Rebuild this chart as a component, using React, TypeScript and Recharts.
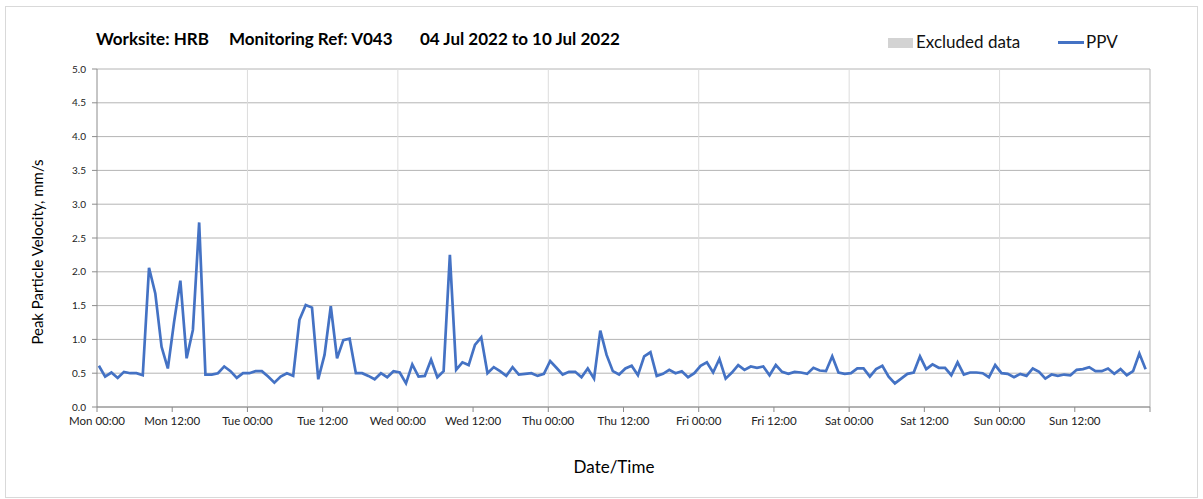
import { LineChart, Line, XAxis, YAxis, CartesianGrid, ReferenceLine } from "recharts";

// hourly PPV readings (mm/s), one array per day
const mon = [0.61, 0.45, 0.51, 0.43, 0.52, 0.5, 0.5, 0.47, 2.06, 1.68, 0.89, 0.57, 1.26, 1.87, 0.72, 1.14, 2.73, 0.48, 0.48, 0.5, 0.6, 0.53, 0.43, 0.5];
const tue = [0.5, 0.53, 0.53, 0.45, 0.36, 0.45, 0.5, 0.46, 1.29, 1.51, 1.47, 0.41, 0.77, 1.49, 0.72, 0.99, 1.01, 0.5, 0.5, 0.46, 0.41, 0.5, 0.44, 0.53];
const wed = [0.51, 0.35, 0.63, 0.45, 0.46, 0.7, 0.44, 0.53, 2.25, 0.55, 0.66, 0.62, 0.92, 1.03, 0.5, 0.59, 0.53, 0.46, 0.59, 0.48, 0.49, 0.5, 0.46, 0.49];
const thu = [0.68, 0.58, 0.48, 0.52, 0.52, 0.44, 0.57, 0.42, 1.13, 0.77, 0.53, 0.48, 0.57, 0.61, 0.47, 0.75, 0.81, 0.46, 0.49, 0.55, 0.5, 0.53, 0.44, 0.5];
const fri = [0.61, 0.66, 0.51, 0.71, 0.42, 0.51, 0.62, 0.55, 0.6, 0.58, 0.6, 0.47, 0.62, 0.52, 0.49, 0.52, 0.51, 0.49, 0.58, 0.54, 0.53, 0.75, 0.51, 0.49];
const sat = [0.5, 0.57, 0.57, 0.45, 0.56, 0.61, 0.45, 0.35, 0.42, 0.49, 0.51, 0.75, 0.56, 0.63, 0.58, 0.58, 0.47, 0.66, 0.48, 0.51, 0.51, 0.5, 0.44, 0.62];
const sun = [0.5, 0.49, 0.44, 0.49, 0.46, 0.57, 0.52, 0.42, 0.48, 0.46, 0.48, 0.47, 0.55, 0.56, 0.59, 0.53, 0.53, 0.57, 0.49, 0.56, 0.47, 0.53, 0.79, 0.56];

const dayNames = ["Mon", "Tue", "Wed", "Thu", "Fri", "Sat", "Sun", "Mon"];
const xTicks = [0, 12, 24, 36, 48, 60, 72, 84, 96, 108, 120, 132, 144, 156, 168];
const yTicks = [0, 0.5, 1, 1.5, 2, 2.5, 3, 3.5, 4, 4.5, 5];
const dayLines = [24, 48, 72, 96, 120, 144];

// readings were logged a little after each hour
const data = [...mon, ...tue, ...wed, ...thu, ...fri, ...sat, ...sun].map((v, i) => ({ hour: i + 0.3, ppv: v }));

const FONT = "Lato, 'Open Sans', sans-serif";

function fmtTick(h: number) {
  if (h >= 168) return "";
  const d = dayNames[Math.floor(h / 24)];
  return `${d} ${h % 24 === 0 ? "00:00" : "12:00"}`;
}

export default function App() {
  return (
    <div style={{ position: "absolute", left: 0, top: 0, width: 1203, height: 499, fontFamily: FONT, color: "#000" }}>
      <div style={{ position: "absolute", left: 5, top: 6, width: 1191, height: 490, border: "1px solid #d9d9d9" }} />

      <div style={{ position: "absolute", top: 29, left: 0, fontSize: 17, fontWeight: 700, lineHeight: "20px", whiteSpace: "nowrap" }}>
        <span style={{ position: "absolute", left: 96 }}>Worksite: HRB</span>
        <span style={{ position: "absolute", left: 229 }}>Monitoring Ref: V043</span>
        <span style={{ position: "absolute", left: 420 }}>04 Jul 2022 to 10 Jul 2022</span>
      </div>

      <div style={{ position: "absolute", top: 32, left: 0, fontSize: 17, lineHeight: "20px", whiteSpace: "nowrap", color: "#111" }}>
        <span style={{ position: "absolute", left: 888, top: 6, width: 25, height: 10, background: "#d3d3d3" }} />
        <span style={{ position: "absolute", left: 916 }}>Excluded data</span>
        <span style={{ position: "absolute", left: 1058, top: 9, width: 26, height: 3, background: "#4472c4" }} />
        <span style={{ position: "absolute", left: 1086 }}>PPV</span>
      </div>

      <div
        style={{
          position: "absolute",
          left: 37,
          top: 252,
          fontSize: 15,
          whiteSpace: "nowrap",
          transform: "translate(-50%, -50%) rotate(-90deg)",
        }}
      >
        Peak Particle Velocity, mm/s
      </div>

      <div style={{ position: "absolute", left: 614, top: 466, fontSize: 17, whiteSpace: "nowrap", transform: "translate(-50%, -50%)" }}>
        Date/Time
      </div>

      <div style={{ position: "absolute", left: 0, top: 0 }}>
        <LineChart width={1203} height={499} data={data} margin={{ top: 69, right: 53, left: 37, bottom: 62 }}>
          <CartesianGrid vertical={false} stroke="#b4b4b4" />
          {dayLines.map((d) => (
            <ReferenceLine key={d} x={d} stroke="#dcdcdc" strokeWidth={1} />
          ))}
          <ReferenceLine x={168} stroke="#b4b4b4" strokeWidth={1} />
          <XAxis
            dataKey="hour"
            type="number"
            domain={[0, 168]}
            ticks={xTicks}
            interval={0}
            tickFormatter={fmtTick}
            height={30}
            stroke="#8c8c8c"
            tickSize={5}
            tickMargin={5}
            tick={{ fontSize: 11.5, fill: "#222", fontFamily: FONT }}
          />
          <YAxis
            type="number"
            domain={[0, 5]}
            ticks={yTicks}
            interval={0}
            tickFormatter={(v: number) => v.toFixed(1)}
            width={60}
            stroke="#8c8c8c"
            tickSize={5}
            tickMargin={6}
            tick={{ fontSize: 10, fill: "#222", fontFamily: FONT }}
          />
          <Line
            type="linear"
            dataKey="ppv"
            stroke="#4472c4"
            strokeWidth={2.7}
            dot={false}
            activeDot={false}
            isAnimationActive={false}
          />
        </LineChart>
      </div>
    </div>
  );
}
